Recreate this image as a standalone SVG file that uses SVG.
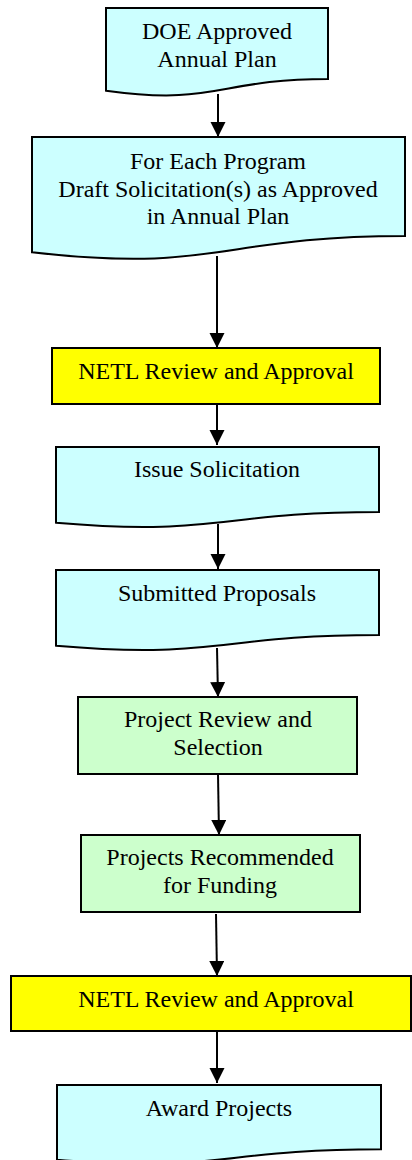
<svg xmlns="http://www.w3.org/2000/svg" width="412" height="1160" viewBox="0 0 412 1160">
<style>
.doc{fill:#CCFFFF;stroke:#000;stroke-width:2}
.ylw{fill:#FFFF00;stroke:#000;stroke-width:2}
.grn{fill:#CCFFCC;stroke:#000;stroke-width:2}
text{font-family:"Liberation Serif","Times New Roman",serif;font-size:24px;fill:#000;text-anchor:middle}
.conn line{stroke:#000;stroke-width:2;fill:none}
</style>
<defs>
<marker id="ah" markerUnits="userSpaceOnUse" markerWidth="16" markerHeight="16" viewBox="0 0 16 16" refX="15" refY="7.5" orient="auto">
<path d="M0,0 L15,7.5 L0,15 Z" fill="#000"/>
</marker>
</defs>
<rect width="412" height="1160" fill="#fff"/>
<g id="connectors" class="conn">
<line x1="218" y1="94" x2="218" y2="137" marker-end="url(#ah)"/>
<line x1="217" y1="256" x2="217" y2="348" marker-end="url(#ah)"/>
<line x1="217" y1="404" x2="217" y2="445" marker-end="url(#ah)"/>
<line x1="218" y1="524" x2="218" y2="569" marker-end="url(#ah)"/>
<line x1="217" y1="648" x2="218" y2="697" marker-end="url(#ah)"/>
<line x1="218" y1="774" x2="219" y2="835" marker-end="url(#ah)"/>
<line x1="216" y1="914" x2="217" y2="976" marker-end="url(#ah)"/>
<line x1="217" y1="1031" x2="217" y2="1083" marker-end="url(#ah)"/>
</g>
<g id="n1">
<path class="doc" d="M106,8 H328 V79 C217,79 217,106 106,90.7 Z"/>
<text x="217" y="39">DOE Approved</text>
<text x="217" y="67">Annual Plan</text>
</g>
<g id="n2">
<path class="doc" d="M32,137 H405 V236 C218.5,236 218.5,273.6 32,252.3 Z"/>
<text x="218" y="169">For Each Program</text>
<text x="218" y="197">Draft Solicitation(s) as Approved</text>
<text x="218" y="224">in Annual Plan</text>
</g>
<g id="n3">
<rect class="ylw" x="52" y="348" width="328" height="56"/>
<text x="216" y="379">NETL Review and Approval</text>
</g>
<g id="n4">
<path class="doc" d="M56,447 H379 V512 C217.5,512 217.5,536.7 56,522.7 Z"/>
<text x="217" y="477">Issue Solicitation</text>
</g>
<g id="n5">
<path class="doc" d="M56,570 H379 V635 C217.5,635 217.5,659.7 56,645.7 Z"/>
<text x="217" y="601">Submitted Proposals</text>
</g>
<g id="n6">
<rect class="grn" x="78" y="697" width="279" height="77"/>
<text x="218" y="727">Project Review and</text>
<text x="218" y="755">Selection</text>
</g>
<g id="n7">
<rect class="grn" x="81" y="835" width="279" height="77"/>
<text x="220" y="865">Projects Recommended</text>
<text x="220" y="893">for Funding</text>
</g>
<g id="n8">
<rect class="ylw" x="11" y="976" width="400" height="55"/>
<text x="216" y="1007">NETL Review and Approval</text>
</g>
<g id="n9">
<path class="doc" d="M57,1085 H381 V1149.2 C219,1149.2 219,1173.6 57,1159.7 Z"/>
<text x="219" y="1116">Award Projects</text>
</g>
</svg>
